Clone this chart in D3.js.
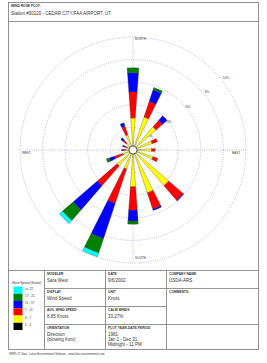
<!DOCTYPE html>
<html lang="en">
<head>
    <meta charset="UTF-8">
    <title>Wind Rose Plot</title>
    <script src="https://d3js.org/d3.v7.min.js"></script>
    <style>
        body { margin: 0; background: #fff; }
        svg { font-family: "Liberation Sans", Arial, sans-serif; }
        .cap { font-size: 3.3px; font-weight: bold; fill: #333; }
        .val { font-size: 4.5px; fill: #333; }
        .tiny { font-size: 3.1px; fill: #333; }
    </style>
</head>
<body>
    <svg width="267" height="363"></svg>
    <script>
        // 16 compass sectors, clockwise from north (wind blowing from)
        const directions = ["N","NNE","NE","ENE","E","ESE","SE","SSE","S","SSW","SW","WSW","W","WNW","NW","NNW"];

        // frequency (%) per speed class, innermost class first
        const s1to4   = [0,0,0,0,0,0,0,0,0,0,0,0,0,0,0,0];
        const s4to7   = [2.84,3.08,2.71,1.78,1.64,1.87,4.18,4.00,3.26,1.78,1.87,0.96,0.62,0.53,0.80,1.42];
        const s7to11  = [2.31,1.46,0.76,0.51,0.31,0.44,1.69,1.51,2.07,3.20,2.31,0.77,0.27,0.27,0.36,0.80];
        const s11to17 = [1.69,1.07,0.53,0,0,0,0.09,0.13,0.95,3.29,2.84,0.49,0.12,0.18,0.27,0.33];
        const s17to21 = [0.44,0.22,0,0,0,0,0,0,0.29,1.33,1.24,0.27,0,0,0,0];
        const s22plus = [0,0,0,0,0,0,0,0,0,0.36,0.36,0,0,0,0,0];

        const classKeys = ["c1","c2","c3","c4","c5","c6"];
        const classLabels = ["1 - 4","4 - 7","7 - 11","11 - 17","17 - 21",">= 22"];
        const classColors = ["#000000","#ffff00","#ff0000","#0000ff","#008000","#00ffff"];

        const ringTicks = [2, 4, 6, 8, 10];

        const table = directions.map((d, i) => ({
            dir: d,
            c1: s1to4[i], c2: s4to7[i], c3: s7to11[i],
            c4: s11to17[i], c5: s17to21[i], c6: s22plus[i]
        }));

        const svg = d3.select("svg");
        const cx = 133, cy = 150;

        // frame
        svg.append("rect").attr("x", 8.5).attr("y", 2.5).attr("width", 250).attr("height", 347)
            .attr("fill", "none").attr("stroke", "#777").attr("stroke-width", 0.8);
        svg.append("line").attr("x1", 8.5).attr("x2", 258.5).attr("y1", 21.5).attr("y2", 21.5)
            .attr("stroke", "#777").attr("stroke-width", 0.8);

        svg.append("text").attr("class", "cap").attr("x", 11).attr("y", 7).text("WIND ROSE PLOT:");
        svg.append("text").attr("class", "val").attr("x", 11).attr("y", 14.5)
            .text("Station #00120 - CEDAR CITY/FAA AIRPORT, UT");

        const r = d3.scaleLinear().domain([0, 10]).range([0, 113]);
        const ang = d3.scaleLinear().domain([0, directions.length]).range([0, 2 * Math.PI]);
        const half = 4.1 * Math.PI / 180;

        const g = svg.append("g").attr("transform", `translate(${cx},${cy})`);

        // rings and axes
        g.selectAll(".ring").data(ringTicks).enter().append("circle")
            .attr("r", d => r(d)).attr("fill", "none")
            .attr("stroke", "#8c8cd0").attr("stroke-width", 0.6).attr("stroke-dasharray", "1,1.3");
        const rmax = r(10);
        g.append("line").attr("x1", -rmax).attr("x2", rmax).attr("y1", 0).attr("y2", 0)
            .attr("stroke", "#8c8cd0").attr("stroke-width", 0.6).attr("stroke-dasharray", "1,1.3");
        g.append("line").attr("y1", -rmax).attr("y2", rmax).attr("x1", 0).attr("x2", 0)
            .attr("stroke", "#8c8cd0").attr("stroke-width", 0.6).attr("stroke-dasharray", "1,1.3");

        const labA = 52 * Math.PI / 180;
        const labR = d => r(d) * 1.06 - 2;
        g.selectAll(".rl").data(ringTicks).enter().append("text")
            .attr("class", "tiny").attr("text-anchor", "middle")
            .attr("x", d => labR(d) * Math.sin(labA))
            .attr("y", d => -labR(d) * Math.cos(labA) + 1)
            .text(d => d + "%");

        g.append("text").attr("class", "tiny").attr("x", 2).attr("y", -rmax + 2.5).text("NORTH");
        g.append("text").attr("class", "tiny").attr("x", 2).attr("y", rmax - 4).text("SOUTH");
        g.append("text").attr("class", "tiny").attr("x", -rmax + 2).attr("y", 3.5).text("WEST");
        g.append("text").attr("class", "tiny").attr("x", rmax - 14).attr("y", 3.5).text("EAST");

        // petals
        const stack = d3.stack().keys(classKeys)(table);
        const arc = d3.arc();
        stack.forEach((layer, k) => {
            g.selectAll(".p" + k).data(layer.filter(d => d[1] - d[0] > 0)).enter().append("path")
                .attr("d", d => {
                    const i = directions.indexOf(d.data.dir);
                    const a = ang(i);
                    return arc({ innerRadius: r(d[0]), outerRadius: r(d[1]),
                                 startAngle: a - half, endAngle: a + half });
                })
                .attr("fill", classColors[k])
                .attr("stroke", "#333").attr("stroke-width", 0.3);
        });

        g.append("circle").attr("r", 4).attr("fill", "#fff").attr("stroke", "#000").attr("stroke-width", 0.6);

        // bottom table
        const ty = 270.5, by = 349.5;
        const line = (x1, y1, x2, y2) => svg.append("line")
            .attr("x1", x1).attr("y1", y1).attr("x2", x2).attr("y2", y2)
            .attr("stroke", "#777").attr("stroke-width", 0.8);
        line(8.5, ty, 258.5, ty);
        line(44.5, ty, 44.5, by);
        line(105.5, ty, 105.5, by);
        line(166.5, ty, 166.5, by);
        line(44.5, 288.5, 258.5, 288.5);
        line(44.5, 306.5, 166.5, 306.5);
        line(44.5, 324.5, 258.5, 324.5);

        const cells = [
            [47, 275, "MODELER", ["Sara West"]],
            [108, 275, "DATE", ["9/6/2002"]],
            [169, 275, "COMPANY NAME", ["USDA-ARS"]],
            [47, 293, "DISPLAY", ["Wind Speed"]],
            [108, 293, "UNIT", ["Knots"]],
            [169, 293, "COMMENTS:", []],
            [47, 311, "AVG. WIND SPEED", ["8.85 Knots"]],
            [108, 311, "CALM WINDS", ["33.27%"]],
            [47, 329, "ORIENTATION", ["Direction", "(blowing from)"]],
            [108, 329, "PLOT YEAR-DATE-PERIOD", ["1981", "Jan 1 - Dec 31", "Midnight - 11 PM"]]
        ];
        cells.forEach(([x, y, cap, vals]) => {
            svg.append("text").attr("class", "cap").attr("x", x).attr("y", y).text(cap);
            vals.forEach((v, j) => svg.append("text").attr("class", "val")
                .attr("x", x).attr("y", y + 7 + j * 5).text(v));
        });

        // legend
        svg.append("text").attr("class", "cap").attr("x", 26.5).attr("y", 284)
            .attr("text-anchor", "middle").style("font-weight", "normal").text("Wind Speed (Knots)");
        const ly = d3.scaleBand().domain(classLabels.slice().reverse()).range([286.5, 330]);
        const legend = svg.append("g");
        legend.selectAll("rect").data(classLabels.slice().reverse()).enter().append("rect")
            .attr("x", 13.5).attr("y", d => ly(d)).attr("width", 9).attr("height", ly.bandwidth())
            .attr("fill", d => classColors[classLabels.indexOf(d)]);
        legend.selectAll("text").data(classLabels.slice().reverse()).enter().append("text")
            .attr("class", "tiny").attr("x", 25).attr("y", d => ly(d) + 3)
            .text(d => d);

        svg.append("text").attr("class", "tiny").attr("x", 9).attr("y", 355).style("font-size", "2.7px")
            .text("WRPLOT View - Lakes Environmental Software - www.lakes-environmental.com");
    </script>
</body>
</html>
